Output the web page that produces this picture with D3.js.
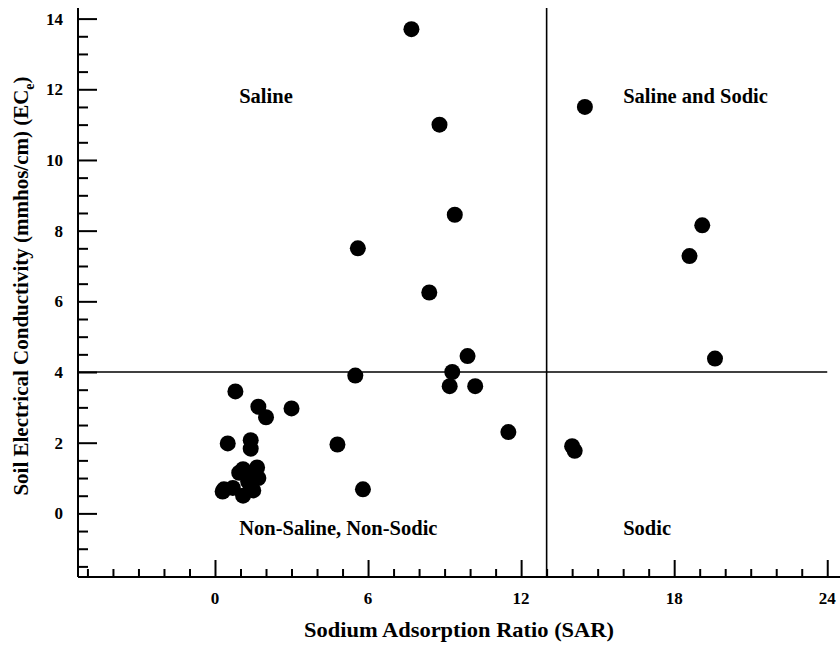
<!DOCTYPE html>
<html>
<head>
<meta charset="utf-8">
<script src="https://cdn.jsdelivr.net/npm/d3@7"></script>
<style>
    body { margin: 0; background: #fff; }
    svg text { font-family: "Liberation Serif", "Times New Roman", serif; font-weight: bold; fill: #000; }
</style>
</head>
<body>
<svg id="chart" width="840" height="647"></svg>
<script>
// Sodium adsorption ratio (x) and soil EC (y), one entry per sample
const sarValues = [
    7.7, 8.8, 9.4, 5.6, 8.4, 9.9, 5.5, 9.3, 9.2, 10.2, 11.5, 4.8, 5.8, 3.0,
    14.5, 18.6, 19.1, 19.6, 14.0, 14.1,
    0.8, 1.7, 2.0, 0.5, 1.4, 1.4,
    0.3, 0.35, 0.7, 1.1, 1.5, 1.7, 1.3, 1.1, 1.65, 0.95, 1.4
];
const ecValues = [
    13.7, 11.0, 8.45, 7.5, 6.25, 4.45, 3.9, 4.0, 3.6, 3.6, 2.3, 1.95, 0.68, 2.97,
    11.5, 7.28, 8.15, 4.38, 1.9, 1.77,
    3.45, 3.02, 2.72, 1.98, 2.07, 1.83,
    0.62, 0.68, 0.72, 0.5, 0.65, 1.0, 0.9, 1.25, 1.3, 1.15, 1.15
];
const xTicks = [0, 6, 12, 18, 24];
const yTicks = [0, 2, 4, 6, 8, 10, 12, 14];
const sarLimit = 13, ecLimit = 4;
const regionLabels = [
    { text: 'Saline', x: 0.95, y: 11.6 },
    { text: 'Saline and Sodic', x: 16, y: 11.6 },
    { text: 'Non-Saline, Non-Sodic', x: 0.95, y: -0.6 },
    { text: 'Sodic', x: 16, y: -0.6 }
];

const svg = d3.select('#chart');
const x = d3.scaleLinear().domain([-5.37, 24.5]).range([78, 840]);
const y = d3.scaleLinear().domain([-1.8, 14.3]).range([577, 8]);

// Quadrant dividers
svg.append('line')
    .attr('x1', x(sarLimit)).attr('x2', x(sarLimit))
    .attr('y1', y(14.3)).attr('y2', y(-1.8))
    .attr('stroke', '#000').attr('stroke-width', 1.6);
svg.append('line')
    .attr('x1', x(-5.37)).attr('x2', x(24))
    .attr('y1', y(ecLimit)).attr('y2', y(ecLimit))
    .attr('stroke', '#000').attr('stroke-width', 1.6);

// Y axis, ticks pointing inward
const yAxis = svg.append('g').attr('transform', 'translate(' + x(-5.37) + ',0)');
yAxis.call(d3.axisRight(y).tickValues(d3.range(-1.5, 14.01, 0.5)).tickSize(10).tickFormat(''));
yAxis.call(g => g.selectAll('.tick').filter(d => yTicks.includes(d)).select('line').attr('x2', 19));
yAxis.selectAll('path, line').attr('stroke', '#000').attr('stroke-width', 2);
yAxis.select('.domain').attr('d', 'M0,' + y(14.3) + 'V' + y(-1.8));
yTicks.forEach(t => {
    svg.append('text').attr('x', 63).attr('y', y(t)).attr('dy', '0.35em')
        .attr('text-anchor', 'end').attr('font-size', 17).text(t);
});

// X axis
const xAxis = svg.append('g').attr('transform', 'translate(0,' + y(-1.8) + ')');
xAxis.call(d3.axisTop(x).tickValues(d3.range(-5, 24.01, 1)).tickSize(8).tickFormat(''));
xAxis.call(g => g.selectAll('.tick').filter(d => xTicks.includes(d)).select('line').attr('y2', -17));
xAxis.selectAll('path, line').attr('stroke', '#000').attr('stroke-width', 2);
xAxis.select('.domain').attr('d', 'M' + x(-5.37) + ',0H840');
xTicks.forEach(t => {
    svg.append('text').attr('x', x(t)).attr('y', 604)
        .attr('text-anchor', 'middle').attr('font-size', 17).text(t);
});

// Axis titles
svg.append('text').attr('x', 459).attr('y', 637)
    .attr('text-anchor', 'middle').attr('font-size', 21.5)
    .attr('textLength', 310).attr('lengthAdjust', 'spacingAndGlyphs')
    .text('Sodium Adsorption Ratio (SAR)');
const yTitle = svg.append('text')
    .attr('transform', 'translate(28,' + 286 + ') rotate(-90)')
    .attr('text-anchor', 'middle').attr('font-size', 21);
yTitle.append('tspan').text('Soil Electrical Conductivity (mmhos/cm) (EC');
yTitle.append('tspan').attr('font-size', 14).attr('dy', 6).text('e');
yTitle.append('tspan').attr('dy', -6).text(')');

// Region names
svg.selectAll('.region').data(regionLabels).join('text')
    .attr('class', 'region')
    .attr('x', d => x(d.x)).attr('y', d => y(d.y))
    .attr('font-size', 20.5).text(d => d.text);

// Samples
svg.selectAll('.sample').data(sarValues).join('circle')
    .attr('class', 'sample')
    .attr('cx', d => x(d))
    .attr('cy', (d, i) => y(ecValues[i]))
    .attr('r', 8)
    .attr('fill', '#000');
</script>
</body>
</html>
